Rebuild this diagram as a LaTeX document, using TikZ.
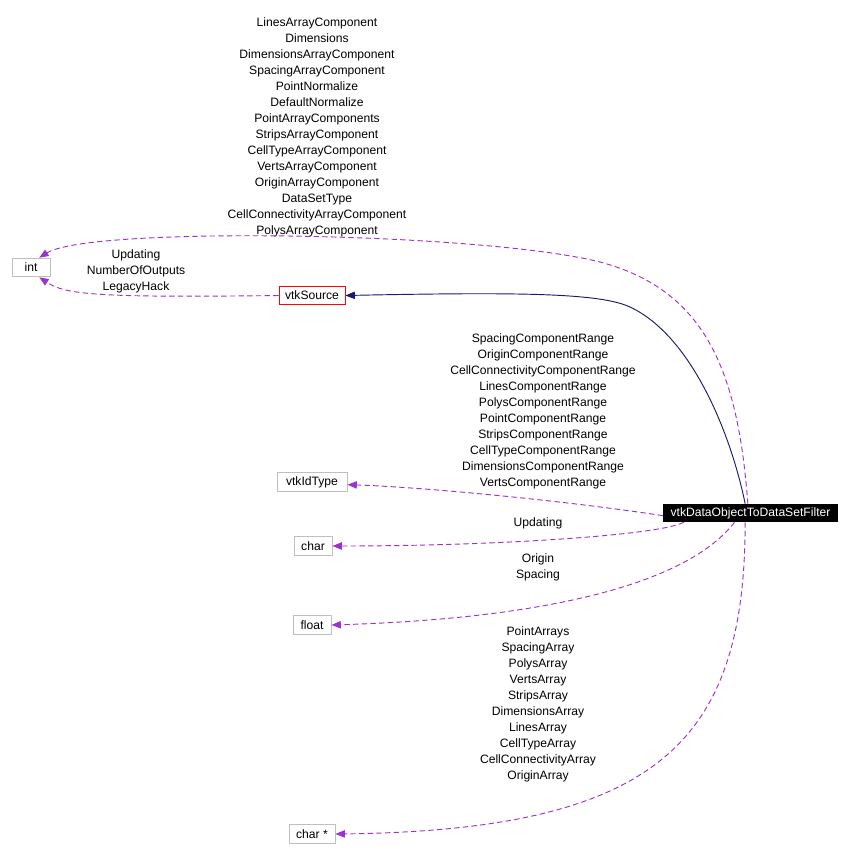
\documentclass[tikz,border=0pt]{standalone}
\usepackage{fontspec}
\setmainfont{Liberation Sans}
\usepackage{tikz}
\usetikzlibrary{arrows.meta}
\definecolor{usedpurple}{HTML}{9A32CD}
\definecolor{inhblue}{HTML}{191970}
\definecolor{boxgray}{HTML}{BFBFBF}

\begin{document}
\begin{tikzpicture}[x=0.75pt,y=-0.75pt,
  every node/.style={font=\fontsize{9.1}{12}\selectfont,inner sep=0pt},
  cls/.style={draw=boxgray,line width=0.7pt,minimum height=14pt,inner xsep=3.5pt},
  lbl/.style={align=center},
  usedby/.style={usedpurple,line width=0.7pt,dash pattern=on 4pt off 2.5pt,
    -{Triangle[length=7pt,width=5.5pt]}},
  inherit/.style={inhblue,line width=0.7pt,-{Triangle[length=7pt,width=5.5pt]}}]
  \useasboundingbox (0,0) rectangle (853,860);

  \node[cls,minimum width=28.5pt] (int) at (31,267.5) {int};
  \node[cls,draw=red,minimum width=49.5pt] (src) at (312,295.5) {vtkSource};
  \node[cls,minimum width=52.5pt] (idt) at (312,482) {vtkIdType};
  \node[cls,minimum width=28.5pt] (chr) at (313,546) {char};
  \node[cls,minimum width=28.5pt] (flt) at (312,625) {float};
  \node[cls,minimum width=34.5pt] (chp) at (312,834) {char *};
  \node[fill=black,text=white,minimum width=131pt,minimum height=13.5pt] (flt2ds) at (750.5,513) {vtkDataObjectToDataSetFilter};

  \node[lbl] (lbltop) at (317,127.5) {LinesArrayComponent\\Dimensions\\DimensionsArrayComponent\\SpacingArrayComponent\\PointNormalize\\DefaultNormalize\\PointArrayComponents\\StripsArrayComponent\\CellTypeArrayComponent\\VertsArrayComponent\\OriginArrayComponent\\DataSetType\\CellConnectivityArrayComponent\\PolysArrayComponent};
  \node[lbl] (lblsrc) at (136,271) {Updating\\NumberOfOutputs\\LegacyHack};
  \node[lbl] (lblrange) at (543,411) {SpacingComponentRange\\OriginComponentRange\\CellConnectivityComponentRange\\LinesComponentRange\\PolysComponentRange\\PointComponentRange\\StripsComponentRange\\CellTypeComponentRange\\DimensionsComponentRange\\VertsComponentRange};
  \node[lbl] (lblupd) at (538,523) {Updating};
  \node[lbl] (lblorig) at (538,567) {Origin\\Spacing};
  \node[lbl] (lblarr) at (538,704) {PointArrays\\SpacingArray\\PolysArray\\VertsArray\\StripsArray\\DimensionsArray\\LinesArray\\CellTypeArray\\CellConnectivityArray\\OriginArray};

  % inheritance
  \draw[inherit] ([xshift=-4pt]flt2ds.north) .. controls (730,430) and (690,335) .. (630,307)
    .. controls (600,293) and (520,292) .. (src.east);
  % members
  \draw[usedby] ([xshift=-2pt]flt2ds.north) .. controls (738,370) and (705,290) .. (600,262)
    .. controls (480,232) and (90,226) .. (int.50);
  \draw[usedby] (src.west) .. controls (90,298) and (65,294) .. (int.-50);
  \draw[usedby] ([yshift=-2pt]flt2ds.west) .. controls (560,500) and (420,487) .. ([yshift=-2pt]idt.east);
  \draw[usedby] ([xshift=-50pt]flt2ds.south) .. controls (660,535) and (500,546) .. (chr.east);
  \draw[usedby] ([xshift=-12pt]flt2ds.south) .. controls (690,580) and (560,618) .. (flt.east);
  \draw[usedby] ([xshift=-4pt]flt2ds.south) .. controls (745,740) and (660,830) .. (chp.east);
\end{tikzpicture}
\end{document}
